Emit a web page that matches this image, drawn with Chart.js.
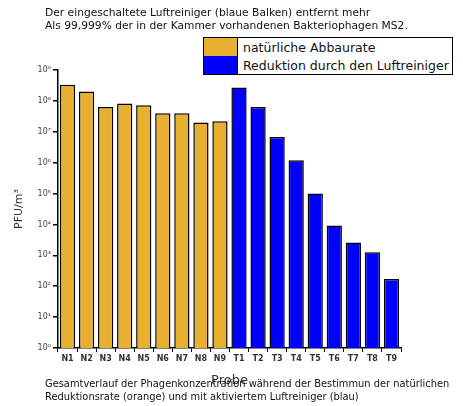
<!DOCTYPE html>
<html lang="de">
<head>
    <meta charset="UTF-8">
    <title>Phagenkonzentration</title>
    <script src="https://cdn.jsdelivr.net/npm/chart.js"></script>
    <style>
        body {
            margin: 0;
            width: 463px;
            height: 406px;
            background: #fff;
            font-family: "DejaVu Sans", sans-serif;
            color: #111;
            position: relative;
            overflow: hidden;
        }

        #chart {
            position: absolute;
            left: 0;
            top: 0;
        }

        .text {
            position: absolute;
            left: 45px;
            white-space: nowrap;
        }

        #legend {
            position: absolute;
            left: 203px;
            top: 37px;
            width: 248px;
            border: 1.5px solid #000;
            background: #fff;
            font-size: 12.5px;
        }

        .item {
            display: flex;
            align-items: center;
            height: 18px;
        }

        .swatch {
            width: 34px;
            height: 18px;
            margin-right: 5px;
            box-sizing: border-box;
            border-right: 1px solid #000;
        }
    </style>
</head>
<body>
    <canvas id="chart" width="463" height="406"></canvas>
    <div class="text" style="top: 6px; font-size: 10.7px; line-height: 13px;">Der eingeschaltete Luftreiniger (blaue Balken) entfernt mehr<br>Als 99,999% der in der Kammer vorhandenen Bakteriophagen MS2.</div>
    <div id="legend"></div>
    <div class="text" style="top: 377px; font-size: 9.9px; line-height: 13px;">Gesamtverlauf der Phagenkonzentration während der Bestimmun der natürlichen<br>Reduktionsrate (orange) und mit aktiviertem Luftreiniger (blau)</div>

    <script>
        // Proben
        const categories = ['N1', 'N2', 'N3', 'N4', 'N5', 'N6', 'N7', 'N8', 'N9',
                            'T1', 'T2', 'T3', 'T4', 'T5', 'T6', 'T7', 'T8', 'T9'];

        // PFU/m³, natürliche Abbaurate (N1..N9)
        const natuerlich = [3.3e8, 2.0e8, 6.4e7, 8.3e7, 7.2e7, 4.0e7, 4.0e7, 2.0e7, 2.2e7];

        // PFU/m³, mit Luftreiniger (T1..T9)
        const luftreiniger = [2.7e8, 6.4e7, 6.8e6, 1.2e6, 1.0e5, 9.3e3, 2.6e3, 1.26e3, 1.7e2];

        const seriesNames = ['natürliche Abbaurate', 'Reduktion durch den Luftreiniger'];
        const seriesColors = ['#E8B030', '#0000FF'];

        const yTicks = [1, 1e1, 1e2, 1e3, 1e4, 1e5, 1e6, 1e7, 1e8, 1e9];
        const yTickLabels = ['10⁰', '10¹', '10²', '10³', '10⁴', '10⁵', '10⁶', '10⁷', '10⁸', '10⁹'];

        // Legende als Kasten
        const legend = document.getElementById('legend');
        seriesNames.forEach((name, i) => {
            const item = document.createElement('div');
            item.className = 'item';
            const sw = document.createElement('div');
            sw.className = 'swatch';
            sw.style.background = seriesColors[i];
            item.appendChild(sw);
            item.appendChild(document.createTextNode(name));
            legend.appendChild(item);
        });

        const nData = categories.map((c, i) => i < natuerlich.length ? natuerlich[i] : null);
        const tData = categories.map((c, i) => i >= natuerlich.length ? luftreiniger[i - natuerlich.length] : null);

        const ctx = document.getElementById('chart').getContext('2d');
        new Chart(ctx, {
            type: 'bar',
            data: {
                labels: categories,
                datasets: [
                    { label: seriesNames[0], data: nData, backgroundColor: seriesColors[0] },
                    { label: seriesNames[1], data: tData, backgroundColor: seriesColors[1] }
                ]
            },
            options: {
                responsive: false,
                animation: false,
                layout: { padding: { left: 0, top: 70, right: 62, bottom: 0 } },
                datasets: {
                    bar: {
                        grouped: false,
                        borderColor: '#000',
                        borderWidth: 1.5,
                        barPercentage: 0.8,
                        categoryPercentage: 1
                    }
                },
                plugins: {
                    legend: { display: false },
                    tooltip: { enabled: false }
                },
                scales: {
                    x: {
                        afterFit: (scale) => { scale.height = 58; },
                        grid: { drawOnChartArea: false, color: '#000', tickLength: 4, lineWidth: 1 },
                        border: { color: '#000', width: 1.5 },
                        ticks: {
                            color: '#333',
                            font: { family: 'DejaVu Sans', size: 8, weight: 'bold' },
                            padding: 2,
                            maxRotation: 0,
                            autoSkip: false
                        },
                        title: {
                            display: true,
                            text: 'Probe',
                            color: '#333',
                            font: { family: 'DejaVu Sans', size: 13 },
                            padding: { top: 0, bottom: 18 }
                        }
                    },
                    y: {
                        type: 'logarithmic',
                        min: 1,
                        max: 1e9,
                        afterFit: (scale) => { scale.width = 58; },
                        afterBuildTicks: (scale) => {
                            scale.ticks = yTicks.map(v => ({ value: v }));
                        },
                        grid: { drawOnChartArea: false, color: '#000', tickLength: 5, lineWidth: 1.5 },
                        border: { color: '#000', width: 1.5 },
                        ticks: {
                            color: '#444',
                            font: { family: 'DejaVu Sans', size: 8 },
                            padding: 2,
                            callback: (v) => yTickLabels[yTicks.indexOf(v)]
                        },
                        title: {
                            display: true,
                            text: 'PFU/m³',
                            color: '#333',
                            font: { family: 'DejaVu Sans', size: 11 },
                            padding: { top: 13, bottom: 0 }
                        }
                    }
                }
            }
        });
    </script>
</body>
</html>
